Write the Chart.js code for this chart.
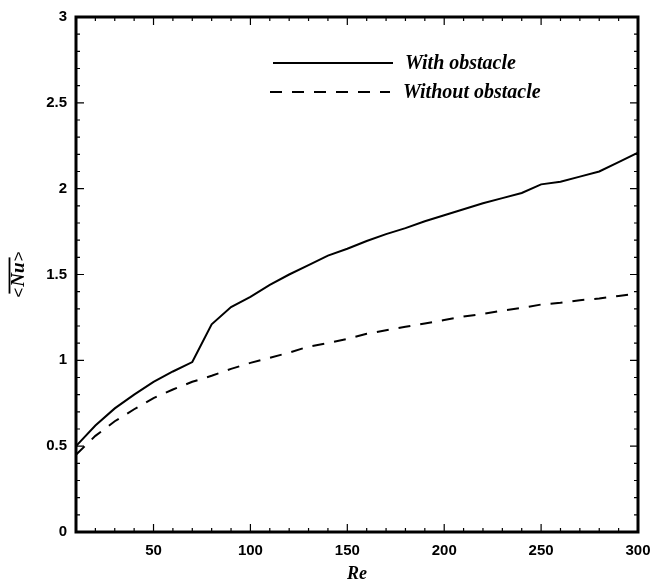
<!DOCTYPE html>
<html>
<head>
<meta charset="utf-8">
<script src="https://cdn.jsdelivr.net/npm/chart.js@4/dist/chart.umd.min.js"></script>
<style>
  html, body { margin: 0; padding: 0; background: #ffffff; }
  #wrap { width: 655px; height: 583px; position: relative; }
</style>
</head>
<body>
<div id="wrap"><canvas id="c" width="655" height="583"></canvas></div>
<script>
// ---- Data ----
const seriesNames = ['With obstacle', 'Without obstacle'];
const reValues = [10,20,30,40,50,60,70,80,90,100,110,120,130,140,150,160,170,180,190,200,210,220,230,240,250,260,270,280,290,300];
const nuWithObstacle = [0.50,0.62,0.72,0.80,0.874,0.935,0.99,1.21,1.31,1.37,1.44,1.50,1.555,1.61,1.65,1.695,1.735,1.77,1.81,1.845,1.88,1.915,1.945,1.975,2.025,2.04,2.07,2.10,2.155,2.21];
const nuWithoutObstacle = [0.45,0.56,0.645,0.715,0.78,0.83,0.875,0.91,0.95,0.985,1.015,1.045,1.08,1.10,1.125,1.155,1.175,1.195,1.215,1.235,1.255,1.27,1.29,1.305,1.325,1.335,1.35,1.36,1.375,1.39];
const xTickLabels = [50,100,150,200,250,300];
const yTickLabels = ['0','0.5','1','1.5','2','2.5','3'];
const xTitle = 'Re';
const yTitleParts = ['<', 'Nu', '>'];

const toPoints = (xs, ys) => xs.map((x, i) => ({ x: x, y: ys[i] }));

const tickFont = { family: "'Liberation Sans', Arial, sans-serif", size: 15, weight: 'bold' };

const framePlugin = {
  id: 'frameTicks',
  afterDraw(chart) {
    const ctx = chart.ctx;
    const a = chart.chartArea;
    const xs = chart.scales.x, ys = chart.scales.y;
    ctx.save();
    ctx.strokeStyle = '#000';
    ctx.lineWidth = 1.2;
    xs.ticks.forEach(t => {
      const v = Math.round(t.value);
      const px = xs.getPixelForValue(v);
      const len = (v % 50 === 0) ? 8 : 4;
      ctx.beginPath();
      ctx.moveTo(px, a.bottom); ctx.lineTo(px, a.bottom - len);
      ctx.moveTo(px, a.top); ctx.lineTo(px, a.top + len);
      ctx.stroke();
    });
    ys.ticks.forEach(t => {
      const v = Math.round(t.value * 10) / 10;
      const py = ys.getPixelForValue(v);
      const major = Math.abs(v * 2 - Math.round(v * 2)) < 1e-6;
      const len = major ? 8 : 4;
      ctx.beginPath();
      ctx.moveTo(a.left, py); ctx.lineTo(a.left + len, py);
      ctx.moveTo(a.right, py); ctx.lineTo(a.right - len, py);
      ctx.stroke();
    });
    ctx.lineWidth = 3;
    ctx.strokeRect(a.left, a.top, a.right - a.left, a.bottom - a.top);

    // legend
    const ds = chart.data.datasets;
    const legendRows = [
      { y: 63, x0: 273, x1: 393, tx: 405 },
      { y: 92, x0: 270, x1: 390, tx: 403 }
    ];
    ds.forEach((d, i) => {
      const r = legendRows[i];
      ctx.beginPath();
      ctx.lineWidth = 2;
      ctx.setLineDash(d.borderDash || []);
      ctx.moveTo(r.x0, r.y); ctx.lineTo(r.x1, r.y);
      ctx.stroke();
      ctx.setLineDash([]);
      ctx.fillStyle = '#000';
      ctx.font = "italic bold 20px 'Liberation Serif', 'Times New Roman', serif";
      ctx.textBaseline = 'middle';
      ctx.textAlign = 'left';
      ctx.fillText(d.label, r.tx, r.y + 1);
    });

    // y axis title  <Nu> with overline, rotated
    ctx.save();
    ctx.translate(18, (a.top + a.bottom) / 2);
    ctx.rotate(-Math.PI / 2);
    const fSans = "17px 'Liberation Sans', Arial, sans-serif";
    const fSerif = "italic bold 19px 'Liberation Serif', 'Times New Roman', serif";
    ctx.font = fSans; const w0 = ctx.measureText(yTitleParts[0]).width;
    ctx.font = fSerif; const w1 = ctx.measureText(yTitleParts[1]).width;
    ctx.font = fSans; const w2 = ctx.measureText(yTitleParts[2]).width;
    const total = w0 + w1 + w2 + 2;
    let x = -total / 2;
    ctx.fillStyle = '#000';
    ctx.textBaseline = 'middle';
    ctx.textAlign = 'left';
    ctx.font = fSans; ctx.fillText(yTitleParts[0], x, 1); x += w0 + 1;
    ctx.font = fSerif; ctx.fillText(yTitleParts[1], x, 1); x += w1 + 1;
    ctx.font = fSans; ctx.fillText(yTitleParts[2], x, 1);
    ctx.beginPath();
    ctx.lineWidth = 1.8;
    ctx.moveTo(-total / 2 + w0 * 0.4, -8.5);
    ctx.lineTo(total / 2 - w2 * 0.6, -8.5);
    ctx.stroke();
    ctx.restore();

    ctx.restore();
  }
};

new Chart(document.getElementById('c'), {
  type: 'line',
  data: {
    datasets: [
      {
        label: seriesNames[0],
        data: toPoints(reValues, nuWithObstacle),
        borderColor: '#000',
        borderWidth: 2,
        pointRadius: 0,
        tension: 0,
        fill: false
      },
      {
        label: seriesNames[1],
        data: toPoints(reValues, nuWithoutObstacle),
        borderColor: '#000',
        borderWidth: 2,
        borderDash: [12, 10],
        pointRadius: 0,
        tension: 0,
        fill: false
      }
    ]
  },
  options: {
    responsive: false,
    animation: false,
    devicePixelRatio: 1,
    layout: { padding: { top: 17, right: 17, left: 0, bottom: 0 } },
    plugins: {
      legend: { display: false },
      tooltip: { enabled: false },
      title: { display: false }
    },
    scales: {
      x: {
        type: 'linear',
        min: 10,
        max: 300,
        grid: { display: false, drawTicks: false },
        border: { display: false },
        afterFit(s) { s.height = 51; s.paddingRight = 0; s.paddingLeft = 0; },
        title: {
          display: true,
          text: xTitle,
          color: '#000',
          font: { family: "'Liberation Serif', 'Times New Roman', serif", size: 18, weight: 'bold', style: 'italic', lineHeight: 1 },
          padding: 0
        },
        ticks: {
          stepSize: 10,
          autoSkip: false,
          maxRotation: 0,
          padding: 10,
          color: '#000',
          font: tickFont,
          callback(v) {
            const r = Math.round(v);
            return xTickLabels.includes(r) ? String(r) : '';
          }
        }
      },
      y: {
        type: 'linear',
        min: 0,
        max: 3,
        grid: { display: false, drawTicks: false },
        border: { display: false },
        afterFit(s) { s.width = 76; s.paddingTop = 0; s.paddingBottom = 0; },
        ticks: {
          stepSize: 0.1,
          autoSkip: false,
          padding: 9,
          color: '#000',
          font: tickFont,
          callback(v) {
            const r = Math.round(v * 10) / 10;
            const s = String(r);
            return yTickLabels.includes(s) ? s : '';
          }
        }
      }
    }
  },
  plugins: [framePlugin]
});
</script>
</body>
</html>
